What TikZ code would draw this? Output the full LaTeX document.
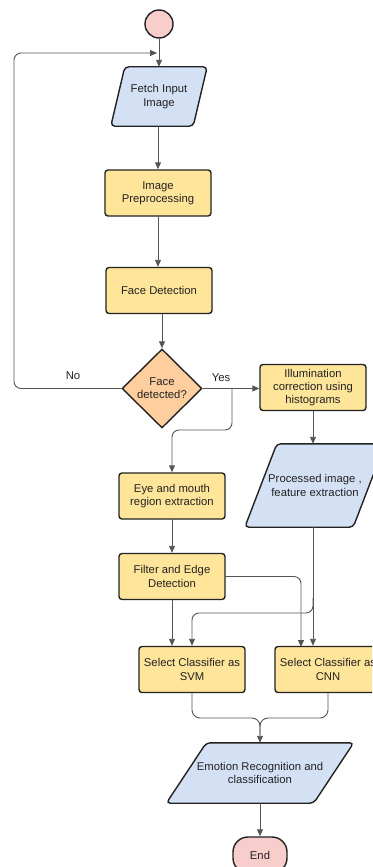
\documentclass[tikz,border=0pt]{standalone}
\usepackage{fontspec}
\setmainfont{Liberation Sans}
\usetikzlibrary{shapes.geometric,arrows.meta,backgrounds}
\definecolor{boxyellow}{HTML}{FFE599}
\definecolor{boxblue}{HTML}{D4E1F5}
\definecolor{boxorange}{HTML}{FFCE9F}
\definecolor{boxpink}{HTML}{F8CECC}
\definecolor{edgecol}{HTML}{222222}
\definecolor{conncol}{HTML}{555555}
\begin{document}
\begin{tikzpicture}[x=1pt,y=-1pt,
  every node/.style={font=\fontsize{11.3}{13.3}\selectfont, text=edgecol, align=center},
  procbox/.style={draw=edgecol, line width=1.4pt, fill=boxyellow, rounded corners=3pt,
    minimum width=106pt, minimum height=46pt, inner sep=1pt},
  iobox/.style={rectangle, inner sep=0pt},
  parashape/.style={draw=edgecol, line width=1.4pt, fill=boxblue, rounded corners=4pt},
  decbox/.style={diamond, draw=edgecol, line width=1.4pt, fill=boxorange,
    minimum width=80pt, minimum height=79pt, inner sep=0pt},
  startbox/.style={circle, draw=edgecol, line width=1.4pt, fill=boxpink, minimum size=28pt, inner sep=0pt},
  endbox/.style={draw=edgecol, line width=1.4pt, fill=boxpink, rounded corners=15pt,
    minimum width=54pt, minimum height=36pt, inner sep=0pt},
  conn/.style={draw=conncol, line width=0.9pt},
  arr/.style={conn, -{Triangle[length=7pt,width=6pt]}},
  lbl/.style={inner sep=0pt}
]
\clip (0,0) rectangle (372,867);

% nodes
\node[startbox] (start) at (159,24) {};
\node[iobox, minimum width=96pt, minimum height=59pt] (fetch) at (159,96.5) {Fetch Input\\Image};
\node[procbox] (prep) at (158,193) {Image\\Preprocessing};
\node[procbox] (facedet) at (159,290.5) {Face Detection};
\node[decbox] (dec) at (162,388.5) {Face\\detected?};
\node[procbox] (illum) at (313,387.5) {Illumination\\correction using\\histograms};
\node[iobox, minimum width=140pt, minimum height=83pt] (proc) at (315,485.5) {Processed image ,\\feature extraction};
\node[procbox] (eye) at (172,496) {Eye and mouth\\region extraction};
\node[procbox] (filter) at (172,576.5) {Filter and Edge\\Detection};
\node[procbox] (svm) at (192,669.5) {Select Classifier as\\SVM};
\node[procbox] (cnn) at (328,669.5) {Select Classifier as\\CNN};
\node[iobox, minimum width=187pt, minimum height=60pt] (emo) at (260,773) {Emotion Recognition and\\classification};
\node[endbox] (endn) at (260,855) {End};

% parallelogram outlines behind their texts
\begin{pgfonlayer}{background}
\fill[white] (0,0) rectangle (372,867);
\draw[parashape] ([xshift=14pt]fetch.north west) -- (fetch.north east)
  -- ([xshift=-14pt]fetch.south east) -- (fetch.south west) -- cycle;
\draw[parashape] ([xshift=32pt]proc.north west) -- (proc.north east)
  -- ([xshift=-32pt]proc.south east) -- (proc.south west) -- cycle;
\draw[parashape] ([xshift=40pt]emo.north west) -- (emo.north east)
  -- ([xshift=-40pt]emo.south east) -- (emo.south west) -- cycle;
\end{pgfonlayer}

% labels
\node[lbl] (nolbl) at (73,376) {No};
\node[lbl] (yeslbl) at (221,378) {Yes};

% coordinates
\coordinate (loopin) at (158,53);
\coordinate (ybr) at (232,388.5);
\coordinate (pbr) at (313,598);
\coordinate (merge) at (260,718);

% connectors
\draw[arr] (start) -- (start.south |- fetch.north);
\draw[arr, rounded corners=7pt, shorten >=1pt] (dec.west) -| (14,53) -- (loopin);
\draw[arr] (fetch.south -| prep.north) -- (prep.north);
\draw[arr] (prep.south) -- (prep.south |- facedet.north);
\draw[arr] (dec.north |- facedet.south) -- (dec.north);
\draw[arr] (dec.east) -- (dec.east -| illum.west);
\draw[arr, rounded corners=7pt] (ybr) -- (232,430) -| (eye.north);
\draw[arr] (illum.south) -- (illum.south |- proc.north);
\draw[arr] (illum.south |- proc.south) -- (illum.south |- cnn.north);
\draw[arr, rounded corners=7pt] (pbr) -- (313,613) -| (svm.north);
\draw[arr] (eye.south) -- (eye.south |- filter.north);
\draw[arr] (filter.south) -- (filter.south |- svm.north);
\draw[arr, rounded corners=7pt] (filter.east) -- (301,576.5) -- (301,647);
\draw[arr, rounded corners=8pt] (svm.south) |- (merge) -- (emo.north);
\draw[conn, rounded corners=8pt] (cnn.south) |- (merge) -- (260,735);
\draw[arr] (emo.south) -- (endn.north);
\end{tikzpicture}
\end{document}
